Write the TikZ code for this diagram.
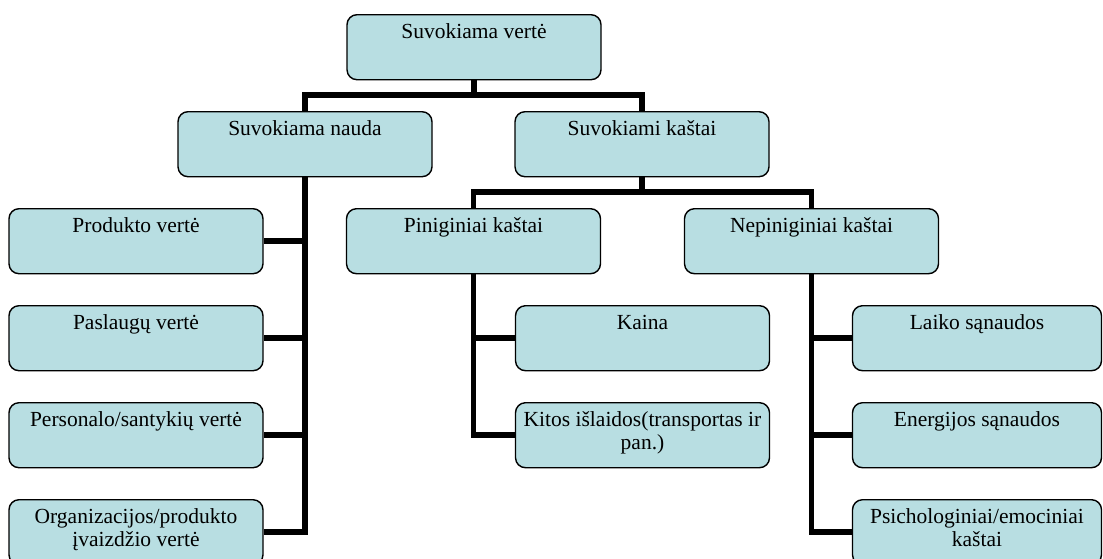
\documentclass[tikz,border=0pt]{standalone}
\usepackage{fontspec}
\setmainfont{Liberation Serif}
\usetikzlibrary{backgrounds}
\definecolor{boxfill}{RGB}{184,222,226}
\tikzset{
  boxst/.style={draw=black, line width=1.4pt, fill=boxfill, rounded corners=10pt,
    minimum height=65pt, minimum width=254pt, inner sep=0pt, anchor=north},
  txt/.style={font=\fontsize{21.5}{23.5}\selectfont, align=center, inner sep=0pt, anchor=north},
  conn/.style={line width=5.5pt, black}
}
% one rounded box with its caption set near the top edge
\newcommand\orgbox[5]{%
  \node[boxst, minimum width=#4] (#1) at (#2,#3) {};
  \node[txt] (#1-t) at ([yshift=-7.5pt]#1.north) {\strut#5};
}
\begin{document}
\begin{tikzpicture}[x=1pt, y=-1pt]
\useasboundingbox (0,0) rectangle (1103,558);
\clip (0,0) rectangle (1103,558);
\orgbox{top}{474}{14}{254pt}{Suvokiama vertė}
\orgbox{nauda}{305}{111}{254pt}{Suvokiama nauda}
\orgbox{kastai}{642}{111}{254pt}{Suvokiami kaštai}
\orgbox{pin}{473.5}{208}{254pt}{Piniginiai kaštai}
\orgbox{nepin}{811.5}{208}{254pt}{Nepiniginiai kaštai}
% benefits
\orgbox{prod}{136}{208}{254pt}{Produkto vertė}
\orgbox{pasl}{136}{305}{254pt}{Paslaugų vertė}
\orgbox{pers}{136}{402}{254pt}{Personalo/santykių vertė}
\orgbox{org}{136}{499}{254pt}{Organizacijos/produkto\\įvaizdžio vertė}
% monetary costs
\orgbox{kaina}{642.5}{305}{254pt}{Kaina}
\orgbox{kitos}{642.5}{402}{254pt}{Kitos išlaidos(transportas ir\\pan.)}
% non-monetary costs
\orgbox{laiko}{977}{305}{249pt}{Laiko sąnaudos}
\orgbox{energ}{977}{402}{249pt}{Energijos sąnaudos}
\orgbox{psich}{977}{499}{249pt}{Psichologiniai/emociniai\\kaštai}
\coordinate (bus1) at (474,95);
\coordinate (bus2) at (642,192);
\begin{scope}[on background layer]
  \draw[conn] (top.south) -- (bus1);
  \draw[conn] (nauda.north) |- (bus1) -| (kastai.north);
  \draw[conn] (kastai.south) -- (bus2);
  \draw[conn] (pin.north) |- (bus2) -| (nepin.north);
  \foreach \c in {prod,pasl,pers,org} \draw[conn] (nauda.south) |- (\c.east);
  \foreach \c in {kaina,kitos} \draw[conn] (pin.south) |- (\c.west);
  \foreach \c in {laiko,energ,psich} \draw[conn] (nepin.south) |- (\c.west);
\end{scope}
\end{tikzpicture}
\end{document}
